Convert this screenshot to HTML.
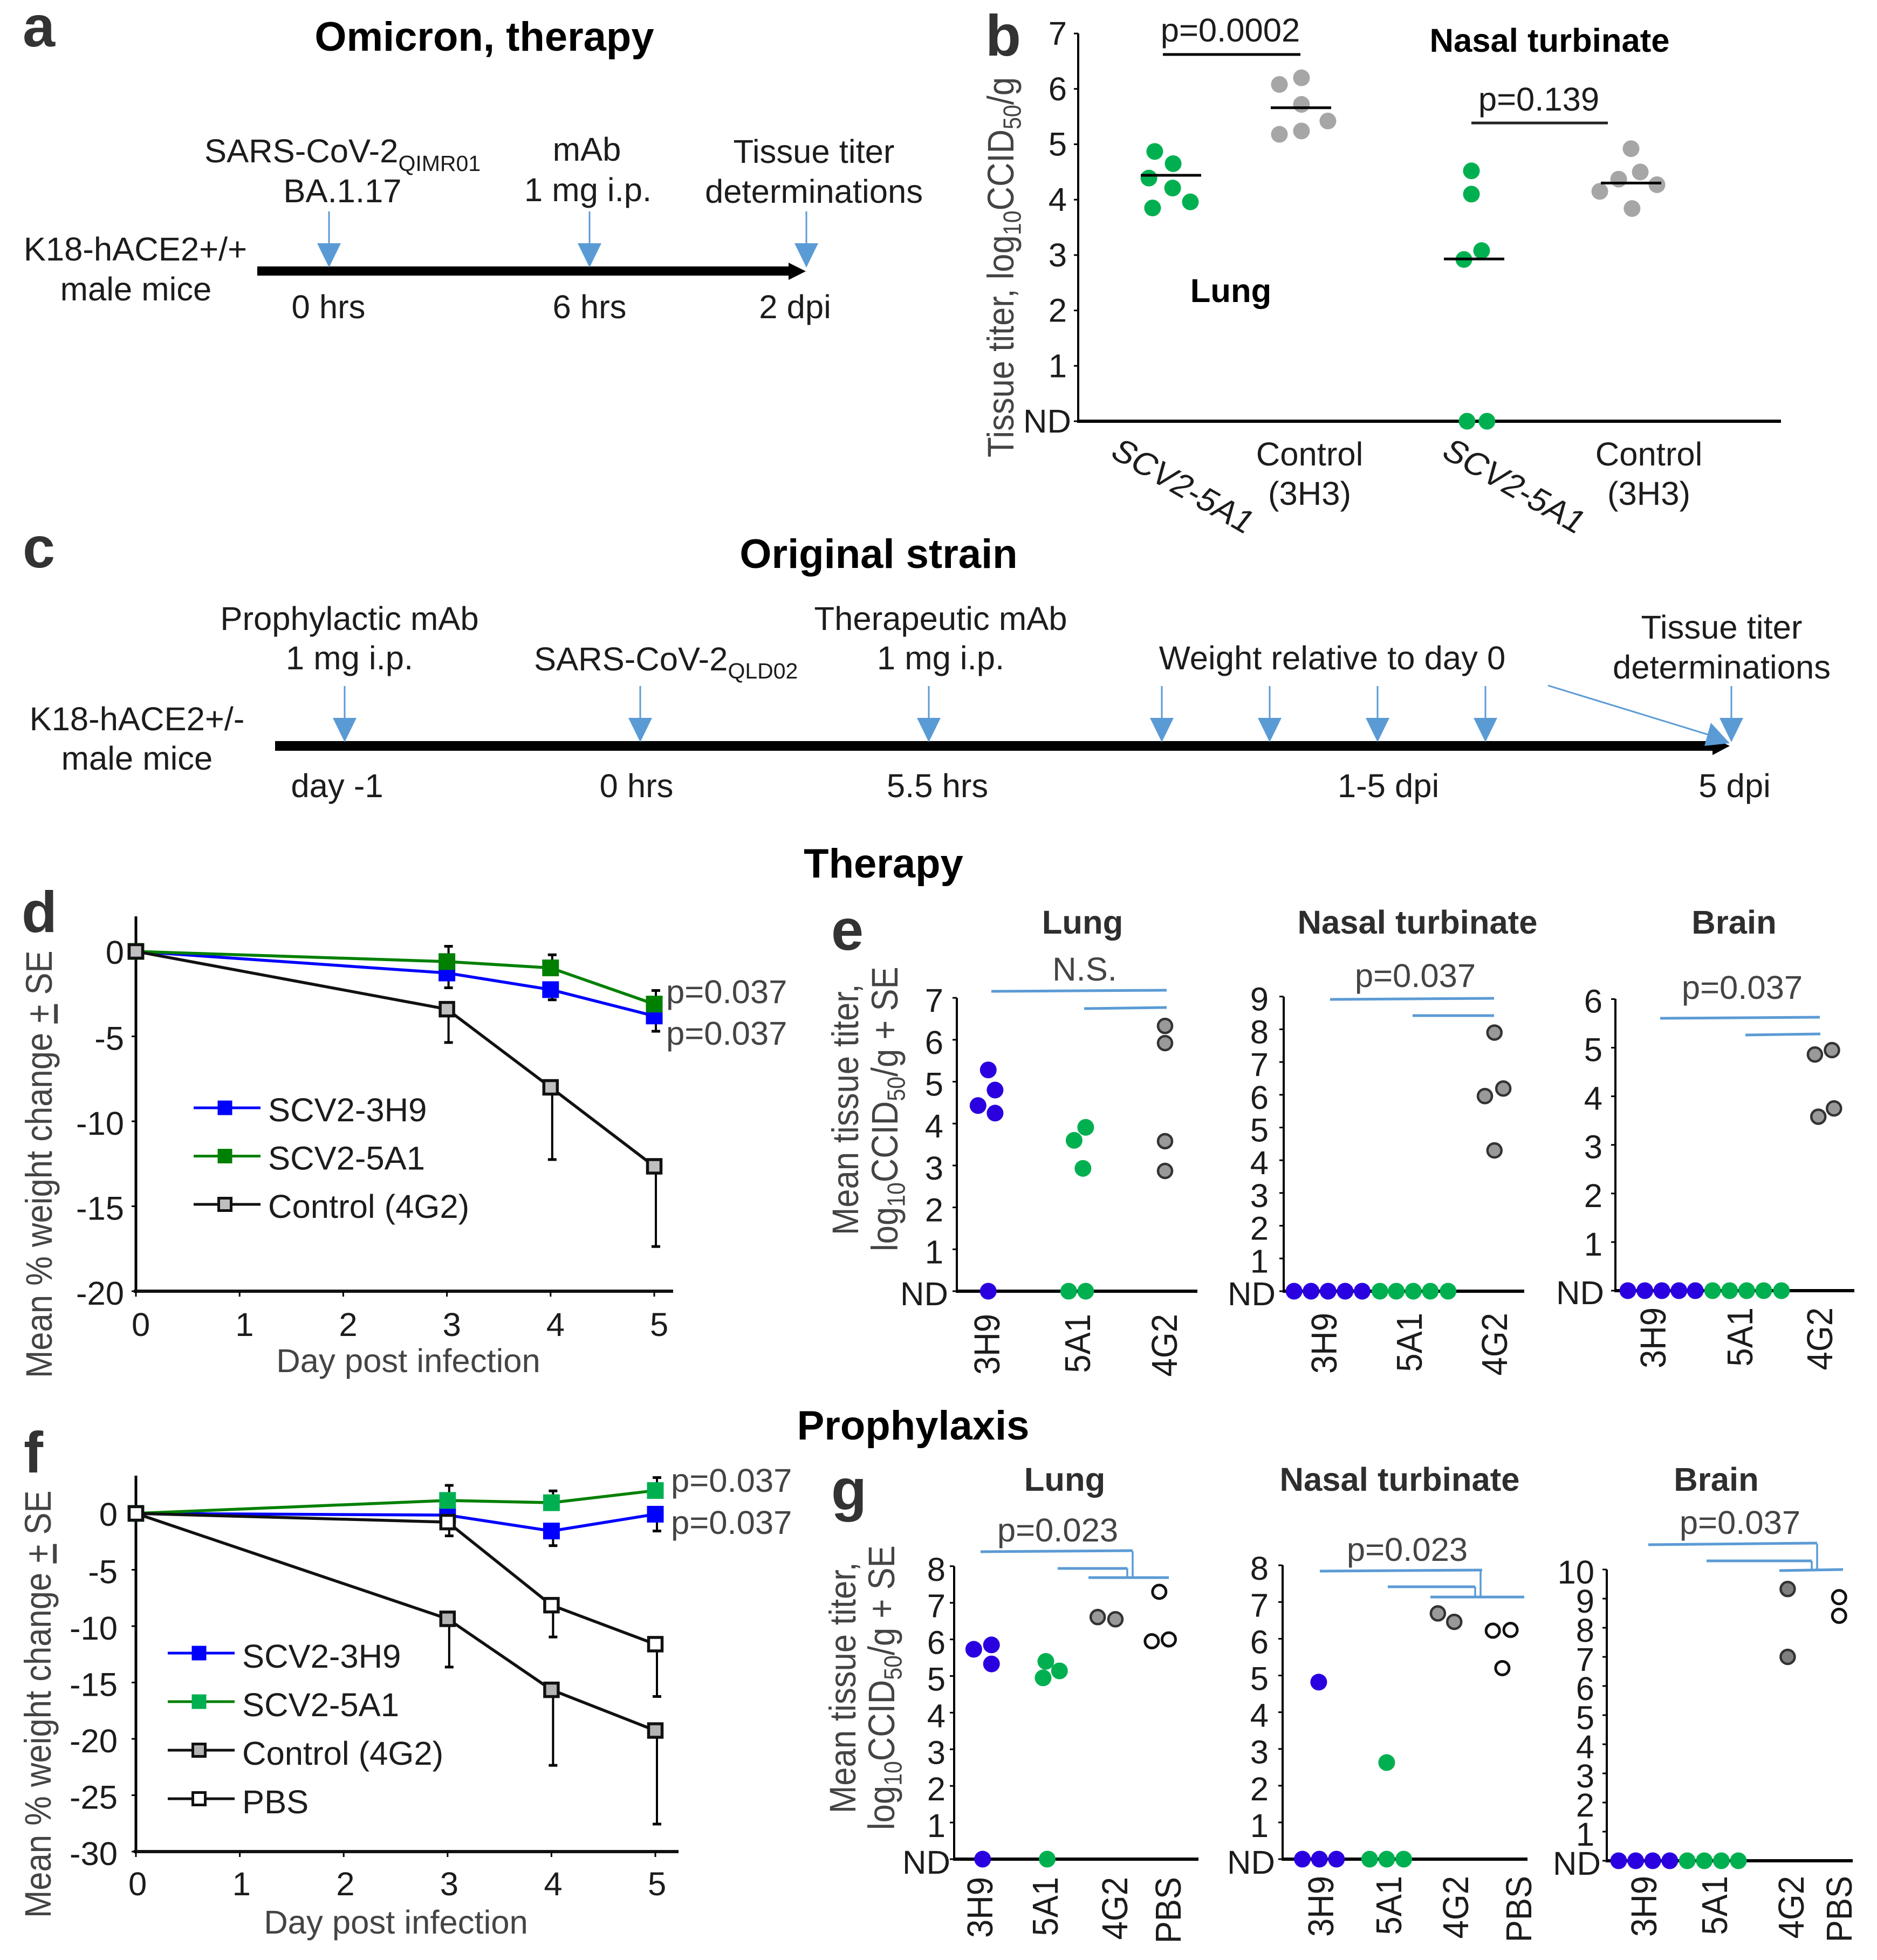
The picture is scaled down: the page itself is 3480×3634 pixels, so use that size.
<!DOCTYPE html>
<html lang="en">
<head>
<meta charset="utf-8">
<title>SCV2-5A1 and SCV2-3H9 mouse therapy and prophylaxis figure</title>
<style>
html,body{margin:0;padding:0;background:#fff;}
svg{display:block;}
text{font-family:"Liberation Sans",Arial,sans-serif;font-size:61.6px;fill:#1c1c1c;}
.h{font-weight:bold;font-size:76px;fill:#000;}
.s{font-weight:bold;font-size:61.6px;fill:#2e2e2e;}
.l{font-weight:bold;font-size:108px;fill:#333;}
.m{text-anchor:middle;}
.g{fill:#444;}
.sub{font-size:41px;}
.blue{fill:#5b9bd5;}
.bs{stroke:#5b9bd5;stroke-width:3;fill:none;}
.bk{stroke:#5b9bd5;stroke-width:5;fill:none;}
.bv{stroke:#5b9bd5;stroke-width:3.5;fill:none;}
</style>
</head>
<body>
<svg id="fig" xmlns="http://www.w3.org/2000/svg" width="3480" height="3634" viewBox="0 0 3480 3634">
<rect x="0" y="0" width="3480" height="3634" fill="#fff"/>

<!-- panel a -->
<g>
<text class="l" x="42" y="86">a</text>
<text class="h m" x="898" y="94">Omicron, therapy</text>
<text x="379" y="301">SARS-CoV-2<tspan class="sub" dy="16">QIMR01</tspan></text>
<text class="m" x="635" y="375">BA.1.17</text>
<text class="m" x="1088" y="298">mAb</text>
<text class="m" x="1090" y="373">1 mg i.p.</text>
<text class="m" x="1509" y="302">Tissue titer</text>
<text class="m" x="1509" y="376">determinations</text>
<text class="m" x="251" y="483">K18-hACE2+/+</text>
<text class="m" x="252" y="557">male mice</text>
<rect x="477" y="494" width="985" height="17" fill="#000"/>
<polygon points="1462,487 1494,503 1462,519" fill="#000"/>
<g><line class="bs" x1="610" y1="392" x2="610" y2="455"/><polygon class="blue" points="588,451 632,451 610,496"/></g>
<g><line class="bs" x1="1093" y1="392" x2="1093" y2="455"/><polygon class="blue" points="1071,451 1115,451 1093,496"/></g>
<g><line class="bs" x1="1495" y1="392" x2="1495" y2="455"/><polygon class="blue" points="1473,451 1517,451 1495,496"/></g>
<text class="m" x="609" y="590">0 hrs</text>
<text class="m" x="1093" y="590">6 hrs</text>
<text class="m" x="1474" y="590">2 dpi</text>
</g>

<!-- panel b static -->
<g>
<text class="l" x="1827" y="103">b</text>
<text class="g" transform="translate(1879,848) rotate(-90) scale(1,1.12)">Tissue titer, log<tspan class="sub" dy="12" style="fill:#444">10</tspan><tspan dy="-12">CCID</tspan><tspan class="sub" dy="12" style="fill:#444">50</tspan><tspan dy="-12">/g</tspan></text>
<text class="m" x="2281" y="77">p=0.0002</text>
<line x1="2156" y1="101" x2="2411" y2="101" stroke="#000" stroke-width="5"/>
<text class="m" x="2853" y="205">p=0.139</text>
<line x1="2728" y1="228" x2="2981" y2="228" stroke="#222" stroke-width="5"/>
<text class="m" x="2873" y="96" style="font-weight:bold;fill:#000">Nasal turbinate</text>
<text class="m" x="2282" y="560" style="font-weight:bold;fill:#000">Lung</text>
<text transform="translate(2055,845) rotate(30) skewX(-8)">SCV2-5A1</text>
<text transform="translate(2669,845) rotate(30) skewX(-8)">SCV2-5A1</text>
<text class="m" x="2428" y="863">Control</text>
<text class="m" x="2428" y="936">(3H3)</text>
<text class="m" x="3057" y="863">Control</text>
<text class="m" x="3057" y="936">(3H3)</text>
</g>

<!-- panel c -->
<g>
<text class="l" x="42" y="1052">c</text>
<text class="h m" x="1629" y="1053">Original strain</text>
<text class="m" x="648" y="1168">Prophylactic mAb</text>
<text class="m" x="648" y="1241">1 mg i.p.</text>
<text x="990" y="1243">SARS-CoV-2<tspan class="sub" dy="15">QLD02</tspan></text>
<text class="m" x="1744" y="1168">Therapeutic mAb</text>
<text class="m" x="1744" y="1241">1 mg i.p.</text>
<text class="m" x="2470" y="1241">Weight relative to day 0</text>
<text class="m" x="3192" y="1184">Tissue titer</text>
<text class="m" x="3192" y="1258">determinations</text>
<text class="m" x="254" y="1354">K18-hACE2+/-</text>
<text class="m" x="254" y="1427">male mice</text>
<rect x="510" y="1374" width="2665" height="18" fill="#000"/>
<polygon points="3175,1368 3207,1383 3175,1400" fill="#000"/>
<g><line class="bs" x1="639" y1="1272" x2="639" y2="1335"/><polygon class="blue" points="617,1331 661,1331 639,1376"/></g>
<g><line class="bs" x1="1187" y1="1272" x2="1187" y2="1335"/><polygon class="blue" points="1165,1331 1209,1331 1187,1376"/></g>
<g><line class="bs" x1="1722" y1="1272" x2="1722" y2="1335"/><polygon class="blue" points="1700,1331 1744,1331 1722,1376"/></g>
<g><line class="bs" x1="2154" y1="1272" x2="2154" y2="1335"/><polygon class="blue" points="2132,1331 2176,1331 2154,1376"/></g>
<g><line class="bs" x1="2354" y1="1272" x2="2354" y2="1335"/><polygon class="blue" points="2332,1331 2376,1331 2354,1376"/></g>
<g><line class="bs" x1="2554" y1="1272" x2="2554" y2="1335"/><polygon class="blue" points="2532,1331 2576,1331 2554,1376"/></g>
<g><line class="bs" x1="2754" y1="1272" x2="2754" y2="1335"/><polygon class="blue" points="2732,1331 2776,1331 2754,1376"/></g>
<g><line class="bs" x1="2870" y1="1271" x2="3180" y2="1366"/><polygon class="blue" points="3207,1378 3172,1340 3160,1383"/></g>
<g><line class="bs" x1="3210" y1="1272" x2="3210" y2="1335"/><polygon class="blue" points="3188,1331 3232,1331 3210,1376"/></g>
<text class="m" x="625" y="1478">day -1</text>
<text class="m" x="1180" y="1478">0 hrs</text>
<text class="m" x="1738" y="1478">5.5 hrs</text>
<text class="m" x="2574" y="1478">1-5 dpi</text>
<text class="m" x="3216" y="1478">5 dpi</text>
</g>

<text class="h m" x="1638" y="1627">Therapy</text>
<text class="h m" x="1693" y="2669">Prophylaxis</text>

<!-- panel d static -->
<text class="l" x="40" y="1728">d</text>
<text class="g" transform="translate(96,2555) rotate(-90) scale(1,1.12)">Mean % weight change <tspan text-decoration="underline">+</tspan> SE</text>
<text class="m g" x="757" y="2544">Day post infection</text>
<text class="g" x="1235" y="1860">p=0.037</text>
<text class="g" x="1235" y="1937">p=0.037</text>

<!-- panel f static -->
<text class="l" x="44" y="2730">f</text>
<text class="g" transform="translate(94,3556) rotate(-90) scale(1,1.12)">Mean % weight change <tspan text-decoration="underline">+</tspan> SE</text>
<text class="m g" x="734" y="3585">Day post infection</text>
<text class="g" x="1244" y="2766">p=0.037</text>
<text class="g" x="1244" y="2844">p=0.037</text>

<!-- panel e static -->
<text class="l" x="1541" y="1761">e</text>
<text class="g" transform="translate(1591,2290) rotate(-90) scale(1,1.12)">Mean tissue titer,</text>
<text class="g" transform="translate(1664,2320) rotate(-90) scale(1,1.12)">log<tspan class="sub" dy="12" style="fill:#444">10</tspan><tspan dy="-12">CCID</tspan><tspan class="sub" dy="12" style="fill:#444">50</tspan><tspan dy="-12">/g + SE</tspan></text>
<text class="s m" x="2007" y="1731">Lung</text>
<text class="s m" x="2628" y="1731">Nasal turbinate</text>
<text class="s m" x="3215" y="1731">Brain</text>
<text class="m g" x="2011" y="1818">N.S.</text>
<text class="m g" x="2624" y="1830">p=0.037</text>
<text class="m g" x="3230" y="1852">p=0.037</text>
<g><path class="bk" d="M1838 1838 L2163 1836"/><path class="bk" d="M2010 1870 L2163 1868"/></g>
<g><path class="bk" d="M2466 1853 L2770 1851"/><path class="bk" d="M2619 1883 L2770 1883"/></g>
<g><path class="bk" d="M3078 1888 L3374 1886"/><path class="bk" d="M3236 1919 L3375 1917"/></g>

<!-- panel g static -->
<text class="l" x="1541" y="2799">g</text>
<text class="g" transform="translate(1586,3362) rotate(-90) scale(1,1.12)">Mean tissue titer,</text>
<text class="g" transform="translate(1658,3393) rotate(-90) scale(1,1.12)">log<tspan class="sub" dy="12" style="fill:#444">10</tspan><tspan dy="-12">CCID</tspan><tspan class="sub" dy="12" style="fill:#444">50</tspan><tspan dy="-12">/g + SE</tspan></text>
<text class="s m" x="1974" y="2764">Lung</text>
<text class="s m" x="2595" y="2764">Nasal turbinate</text>
<text class="s m" x="3182" y="2764">Brain</text>
<text class="m g" x="1961" y="2858">p=0.023</text>
<text class="m g" x="2609" y="2894">p=0.023</text>
<text class="m g" x="3226" y="2844">p=0.037</text>
<g><path class="bk" d="M1818 2877 L2100 2875"/><path class="bk" d="M1961 2908 L2090 2908"/><path class="bk" d="M2018 2925 L2167 2925"/><path class="bv" d="M2100 2876 V2925 M2090 2908 V2925"/></g>
<g><path class="bk" d="M2447 2913 L2748 2911"/><path class="bk" d="M2573 2942 L2735 2942"/><path class="bk" d="M2652 2961 L2826 2961"/><path class="bv" d="M2745 2912 V2961 M2735 2942 V2961"/></g>
<g><path class="bk" d="M3056 2864 L3369 2861"/><path class="bk" d="M3164 2894 L3359 2894"/><path class="bk" d="M3299 2912 L3417 2910"/><path class="bv" d="M3369 2862 V2911 M3359 2894 V2911"/></g>
</svg>

<script>
/* ---------- Panel b data ---------- */
const bTickLabels = ['ND','1','2','3','4','5','6','7'];
const bLung5A1 = [4.87,4.65,4.39,4.21,3.96,3.85];
const bLung5A1Jitter = [-0.97,0.13,-1.32,0.1,1.16,-1.1];
const bLungCtrl = [6.08,6.2,5.72,5.42,5.24,5.18];
const bLungCtrlJitter = [-1.29,0.03,0.03,1.61,0.03,-1.29];
const bNasal5A1 = [4.52,4.1,3.08,2.92,0,0];
const bNasal5A1Jitter = [-0.16,-0.16,0.45,-0.61,-0.42,0.77];
const bNasalCtrl = [4.92,4.5,4.37,4.27,4.15,3.84];
const bNasalCtrlJitter = [0,0.55,-0.74,1.55,-1.87,0.06];
const bMedians = [4.44,5.66,2.93,4.3];

/* ---------- Panel d data ---------- */
const weightDays = [0,3,4,5];
const weightDayTicks = ['0','1','2','3','4','5'];
const dYTicks = [0,-5,-10,-15,-20];
const d3H9 = [0,-1.27,-2.25,-3.8];
const d3H9Err = [0,0.87,0.6,0.9];
const d5A1 = [0,-0.6,-0.97,-3.1];
const d5A1Err = [0,0.9,0.77,0.8];
const dCtrl = [0,-3.4,-8,-12.65];
const dCtrlErr = [0,1.96,4.25,4.72];

/* ---------- Panel f data ---------- */
const fYTicks = [0,-5,-10,-15,-20,-25,-30];
const f3H9 = [0,-0.15,-1.56,-0.07];
const f3H9Err = [0,1,1.3,1.49];
const f5A1 = [0,1.15,0.95,2.03];
const f5A1Err = [0,1.34,1.05,1.15];
const fCtrl = [0,-9.35,-15.65,-19.26];
const fCtrlErr = [0,4.28,6.7,8.3];
const fPBS = [0,-0.77,-8.14,-11.6];
const fPBSErr = [0,1.22,2.82,4.64];

/* ---------- Panel e data ---------- */
const threeCats = ['3H9','5A1','4G2'];
const eLungTicks = ['ND','1','2','3','4','5','6','7'];
const eLung3H9 = [5.28,4.8,4.43,4.25,0];
const eLung3H9Jitter = [0.04,0.44,-0.56,0.44,0.04];
const eLung5A1 = [3.91,3.6,2.93,0,0];
const eLung5A1Jitter = [0.44,-0.24,0.28,-0.56,0.44];
const eLung4G2 = [6.33,5.92,3.58,2.87];
const eLung4G2Jitter = [0,0,0,0];

const eNasalTicks = ['ND','1','2','3','4','5','6','7','8','9'];
const eNasal3H9 = [0,0,0,0,0];
const eNasal3H9Jitter = [-1.8,-0.8,0.2,1.2,2.2];
const eNasal5A1 = [0,0,0,0,0];
const eNasal5A1Jitter = [-1.76,-0.8,0.2,1.2,2.24];
const eNasal4G2 = [7.9,6.19,5.96,4.3];
const eNasal4G2Jitter = [-0.04,0.48,-0.6,-0.04];

const eBrainTicks = ['ND','1','2','3','4','5','6'];
const eBrain3H9 = [0,0,0,0,0];
const eBrain3H9Jitter = [-1.52,-0.52,0.48,1.48,2.44];
const eBrain5A1 = [0,0,0,0,0];
const eBrain5A1Jitter = [-1.64,-0.64,0.36,1.36,2.4];
const eBrain4G2 = [4.86,4.95,3.58,3.75];
const eBrain4G2Jitter = [-0.32,0.68,-0.12,0.8];

/* ---------- Panel g data ---------- */
const fourCats = ['3H9','5A1','4G2','PBS'];
const gLungTicks = ['ND','1','2','3','4','5','6','7','8'];
const gLung3H9 = [5.73,5.85,5.33,0];
const gLung3H9Jitter = [-0.4,0.64,0.64,0.12];
const gLung5A1 = [5.4,5.14,4.95,0];
const gLung5A1Jitter = [0,0.8,-0.16,0.08];
const gLung4G2 = [6.61,6.55];
const gLung4G2Jitter = [-1.04,0];
const gLungPBS = [7.3,5.95,6];
const gLungPBSJitter = [-0.56,-1,0];

const gNasalTicks = ['ND','1','2','3','4','5','6','7','8'];
const gNasal3H9 = [4.82,0,0,0];
const gNasal3H9Jitter = [-0.16,-1.12,-0.12,0.88];
const gNasal5A1 = [2.63,0,0,0];
const gNasal5A1Jitter = [-0.16,-1.16,-0.16,0.84];
const gNasal4G2 = [6.69,6.46];
const gNasal4G2Jitter = [-1.08,-0.12];
const gNasalPBS = [6.22,6.24,5.2];
const gNasalPBSJitter = [-1.56,-0.52,-1];

const gBrainTicks = ['ND','1','2','3','4','5','6','7','8','9','10'];
const gBrain3H9 = [0,0,0,0];
const gBrain3H9Jitter = [-1.52,-0.52,0.48,1.48];
const gBrain5A1 = [0,0,0,0];
const gBrain5A1Jitter = [-1.64,-0.64,0.36,1.36];
const gBrain4G2 = [9.33,7];
const gBrain4G2Jitter = [-0.24,-0.24];
const gBrainPBS = [9.05,8.41];
const gBrainPBSJitter = [-0.04,-0.04];

/* ---------- helpers ---------- */
const svg = document.getElementById('fig');
const NS = 'http://www.w3.org/2000/svg';

function make(tag, name, parent) {
  const el = document.createElementNS(NS, tag);
  
  
  (parent || svg).appendChild(el);
  return el;
}
function seg(parent, name, x1, y1, x2, y2, color, width) {
  const el = make('line', name, parent);
  el.setAttribute('x1', x1);
  el.setAttribute('y1', y1);
  el.setAttribute('x2', x2);
  el.setAttribute('y2', y2);
  el.setAttribute('stroke', color);
  el.setAttribute('stroke-width', width);
  return el;
}
function label(parent, name, x, y, str, anchor) {
  const el = make('text', name, parent);
  el.setAttribute('x', x);
  el.setAttribute('y', y);
  el.setAttribute('text-anchor', anchor);
  el.textContent = str;
  return el;
}
function square(parent, name, cx, cy, size, fill, stroke, sw) {
  const el = make('rect', name, parent);
  el.setAttribute('x', cx - size / 2);
  el.setAttribute('y', cy - size / 2);
  el.setAttribute('width', size);
  el.setAttribute('height', size);
  el.setAttribute('fill', fill);
  if (stroke) {
    el.setAttribute('stroke', stroke);
    el.setAttribute('stroke-width', sw);
  }
  return el;
}
function dot(parent, name, cx, cy, r, fill, stroke, sw) {
  const el = make('circle', name, parent);
  el.setAttribute('cx', cx);
  el.setAttribute('cy', cy);
  el.setAttribute('r', r);
  el.setAttribute('fill', fill);
  if (stroke) {
    el.setAttribute('stroke', stroke);
    el.setAttribute('stroke-width', sw);
  }
  return el;
}

/* ---------- weight-change line charts ---------- */
function lineChart(cfg) {
  const g = make('g', cfg.name);
  const X = d => cfg.x0 + d * cfg.xUnit;
  const Y = v => cfg.y0 - v * cfg.yUnit;
  const yBottom = Y(cfg.yTicks[cfg.yTicks.length - 1]);
  seg(g, 'y-axis', cfg.x0, cfg.yTop, cfg.x0, yBottom + 2, '#000', 5);
  seg(g, 'x-axis', cfg.x0 - 4, yBottom, cfg.xEnd, yBottom, '#111', 6);
  cfg.yTicks.forEach(v => {
    seg(g, 'y-tick', cfg.x0 - 8, Y(v), cfg.x0, Y(v), '#000', 3);
    label(g, 'y-tick-label', cfg.yLabelX, Y(v) + (v === 0 ? 23 : 25), String(v), 'end');
  });
  weightDayTicks.forEach((t, i) => {
    seg(g, 'x-tick', X(i), yBottom, X(i), yBottom + 10, '#000', 3);
    label(g, 'x-tick-label', X(i) + cfg.xLabelShift - 17, cfg.xLabelY, t, 'start');
  });
  cfg.series.forEach(s => {
    const sg = make('g', 'series-' + s.id, g);
    weightDays.forEach((d, i) => {
      if (s.err[i] > 0) {
        const end = s.values[i] + s.dir * s.err[i];
        seg(sg, 'error-bar', X(d) + 3, Y(s.values[i]), X(d) + 3, Y(end), '#000', 4);
        seg(sg, 'error-cap', X(d) - 5, Y(end), X(d) + 11, Y(end), '#000', 5);
      }
    });
    const line = make('polyline', 'line-' + s.id, sg);
    line.setAttribute('points', weightDays.map((d, i) => X(d) + ',' + Y(s.values[i])).join(' '));
    line.setAttribute('fill', 'none');
    line.setAttribute('stroke', s.line);
    line.setAttribute('stroke-width', 5.5);
    weightDays.forEach((d, i) => {
      square(sg, 'marker-' + s.id, X(d), Y(s.values[i]), s.stroke ? 25 : 31, s.fill, s.stroke, 5.5);
    });
  });
  cfg.series.forEach((s, i) => {
    const ly = cfg.legendY + i * cfg.legendStep;
    const lg = make('g', 'legend-entry-' + s.id, g);
    seg(lg, 'legend-line', cfg.legendX, ly, cfg.legendX + 124, ly, s.line, 5);
    square(lg, 'legend-marker', cfg.legendX + 58, ly, s.stroke ? 23 : 27, s.fill, s.stroke, 5);
    label(lg, 'legend-label', cfg.legendX + 138, ly + cfg.legendDy, s.label, 'start');
  });
}

lineChart({
  name: 'panel-d-chart', x0: 252, xUnit: 192.2, y0: 1764, yUnit: 31.5, yTop: 1699, xEnd: 1248,
  yTicks: dYTicks, yLabelX: 230, xLabelY: 2477, xLabelShift: 9,
  legendX: 359, legendY: 2054, legendStep: 89.5, legendDy: 25,
  series: [
    {id:'scv2-3h9', label:'SCV2-3H9', values:d3H9, err:d3H9Err, dir:-1, line:'#0000ff', fill:'#0000ff'},
    {id:'scv2-5a1', label:'SCV2-5A1', values:d5A1, err:d5A1Err, dir:1, line:'#008000', fill:'#008000'},
    {id:'control-4g2', label:'Control (4G2)', values:dCtrl, err:dCtrlErr, dir:-1, line:'#111', fill:'#bfbfbf', stroke:'#111'}
  ]
});
lineChart({
  name: 'panel-f-chart', x0: 252, xUnit: 192.6, y0: 2806, yUnit: 20.9, yTop: 2736, xEnd: 1258,
  yTicks: fYTicks, yLabelX: 218, xLabelY: 3514, xLabelShift: 3,
  legendX: 311, legendY: 3065, legendStep: 90, legendDy: 27,
  series: [
    {id:'scv2-3h9', label:'SCV2-3H9', values:f3H9, err:f3H9Err, dir:-1, line:'#0000ff', fill:'#0000ff'},
    {id:'scv2-5a1', label:'SCV2-5A1', values:f5A1, err:f5A1Err, dir:1, line:'#008000', fill:'#00b050'},
    {id:'control-4g2', label:'Control (4G2)', values:fCtrl, err:fCtrlErr, dir:-1, line:'#111', fill:'#b3b3b3', stroke:'#111'},
    {id:'pbs', label:'PBS', values:fPBS, err:fPBSErr, dir:-1, line:'#111', fill:'#fff', stroke:'#111'}
  ]
});

/* ---------- scatter panels ---------- */
const BLUE = {fill:'#2a00e0'};
const GREEN = {fill:'#00b050'};
const GREY = {fill:'#999999', stroke:'#333', sw:4.5, r:13};
const OPEN = {fill:'#ffffff', stroke:'#111', sw:5, r:12.5};

function scatterPanel(cfg) {
  const g = make('g', cfg.name);
  const Y = v => cfg.y0 - v * cfg.yUnit;
  seg(g, 'y-axis', cfg.x0, cfg.yTop, cfg.x0, cfg.y0 + 2, '#000', 4);
  seg(g, 'x-axis', cfg.x0 - 2, cfg.y0, cfg.xEnd, cfg.y0, '#000', 6);
  cfg.ticks.forEach((t, i) => {
    seg(g, 'y-tick', cfg.x0 - 8, Y(i), cfg.x0, Y(i), '#000', 3);
    const right = t === 'ND' ? cfg.ndRight : cfg.labelRight;
    label(g, 'y-tick-label', right, Y(i) + cfg.labelDy, t, 'end');
  });
  if (cfg.cats) {
    cfg.cats.forEach((c, i) => {
      const el = label(g, 'x-tick-label', 0, 0, c, 'end');
      el.setAttribute('transform', 'translate(' + (cfg.catX[i] + 22) + ',' + cfg.catTop + ') rotate(-90) scale(1,1.08)');
    });
  }
  cfg.groups.forEach((grp, k) => {
    const sg = make('g', 'points-' + grp.id, g);
    grp.values.forEach((v, i) => {
      const st = grp.style;
      dot(sg, 'point-' + grp.id, cfg.catX[k] + grp.jitter[i] * cfg.slot, Y(v), st.r || cfg.r, st.fill, st.stroke, st.sw);
    });
  });
  if (cfg.medians) {
    cfg.medians.forEach((m, k) => {
      seg(g, 'median-line', cfg.catX[k] - 56, Y(m), cfg.catX[k] + 56, Y(m), '#000', 5);
    });
  }
}

scatterPanel({
  name:'panel-b-chart', x0:1999, xEnd:3302, y0:781, yUnit:102.7, yTop:62, ticks:bTickLabels,
  labelRight:1978, ndRight:1986, labelDy:21, catX:[2171,2412,2733,3024], slot:31, r:15.5, medians:bMedians,
  groups:[
    {id:'lung-5a1', values:bLung5A1, jitter:bLung5A1Jitter, style:GREEN},
    {id:'lung-control', values:bLungCtrl, jitter:bLungCtrlJitter, style:{fill:'#a6a6a6'}},
    {id:'nasal-5a1', values:bNasal5A1, jitter:bNasal5A1Jitter, style:GREEN},
    {id:'nasal-control', values:bNasalCtrl, jitter:bNasalCtrlJitter, style:{fill:'#a6a6a6'}}
  ]
});
scatterPanel({
  name:'panel-e-lung', x0:1774, xEnd:2220, y0:2394, yUnit:77.7, yTop:1850, ticks:eLungTicks,
  labelRight:1749, ndRight:1758, labelDy:26, cats:threeCats, catX:[1831,1999,2160], catTop:2436, slot:31.6, r:15.5,
  groups:[
    {id:'3h9', values:eLung3H9, jitter:eLung3H9Jitter, style:BLUE},
    {id:'5a1', values:eLung5A1, jitter:eLung5A1Jitter, style:GREEN},
    {id:'4g2', values:eLung4G2, jitter:eLung4G2Jitter, style:GREY}
  ]
});
scatterPanel({
  name:'panel-e-nasal', x0:2380, xEnd:2826, y0:2394, yUnit:60.7, yTop:1848, ticks:eNasalTicks,
  labelRight:2352, ndRight:2365, labelDy:26, cats:threeCats, catX:[2456,2614,2772], catTop:2434, slot:31.6, r:15.5,
  groups:[
    {id:'3h9', values:eNasal3H9, jitter:eNasal3H9Jitter, style:BLUE},
    {id:'5a1', values:eNasal5A1, jitter:eNasal5A1Jitter, style:GREEN},
    {id:'4g2', values:eNasal4G2, jitter:eNasal4G2Jitter, style:GREY}
  ]
});
scatterPanel({
  name:'panel-e-brain', x0:2995, xEnd:3438, y0:2393, yUnit:90.1, yTop:1852, ticks:eBrainTicks,
  labelRight:2971, ndRight:2974, labelDy:25, cats:threeCats, catX:[3066,3227,3375], catTop:2424, slot:31.6, r:15.5,
  groups:[
    {id:'3h9', values:eBrain3H9, jitter:eBrain3H9Jitter, style:BLUE},
    {id:'5a1', values:eBrain5A1, jitter:eBrain5A1Jitter, style:GREEN},
    {id:'4g2', values:eBrain4G2, jitter:eBrain4G2Jitter, style:GREY}
  ]
});
scatterPanel({
  name:'panel-g-lung', x0:1769, xEnd:2222, y0:3447, yUnit:67.9, yTop:2904, ticks:gLungTicks,
  labelRight:1753, ndRight:1762, labelDy:27, cats:fourCats, catX:[1818,1939,2068,2167], catTop:3480, slot:31.6, r:15.5,
  groups:[
    {id:'3h9', values:gLung3H9, jitter:gLung3H9Jitter, style:BLUE},
    {id:'5a1', values:gLung5A1, jitter:gLung5A1Jitter, style:GREEN},
    {id:'4g2', values:gLung4G2, jitter:gLung4G2Jitter, style:GREY},
    {id:'pbs', values:gLungPBS, jitter:gLungPBSJitter, style:OPEN}
  ]
});
scatterPanel({
  name:'panel-g-nasal', x0:2378, xEnd:2832, y0:3447, yUnit:68.1, yTop:2902, ticks:gNasalTicks,
  labelRight:2352, ndRight:2364, labelDy:27, cats:fourCats, catX:[2450,2576,2700,2817], catTop:3478, slot:31.6, r:15.5,
  groups:[
    {id:'3h9', values:gNasal3H9, jitter:gNasal3H9Jitter, style:BLUE},
    {id:'5a1', values:gNasal5A1, jitter:gNasal5A1Jitter, style:GREEN},
    {id:'4g2', values:gNasal4G2, jitter:gNasal4G2Jitter, style:GREY},
    {id:'pbs', values:gNasalPBS, jitter:gNasalPBSJitter, style:OPEN}
  ]
});
scatterPanel({
  name:'panel-g-brain', x0:2979, xEnd:3435, y0:3450, yUnit:54, yTop:2910, ticks:gBrainTicks,
  labelRight:2956, ndRight:2968, labelDy:26, cats:fourCats, catX:[3049,3180,3322,3411], catTop:3478, slot:31.6, r:15.5,
  groups:[
    {id:'3h9', values:gBrain3H9, jitter:gBrain3H9Jitter, style:BLUE},
    {id:'5a1', values:gBrain5A1, jitter:gBrain5A1Jitter, style:GREEN},
    {id:'4g2', values:gBrain4G2, jitter:gBrain4G2Jitter, style:{fill:'#7f7f7f', stroke:'#333', sw:4.5, r:13}},
    {id:'pbs', values:gBrainPBS, jitter:gBrainPBSJitter, style:OPEN}
  ]
});
</script>
</body>
</html>
